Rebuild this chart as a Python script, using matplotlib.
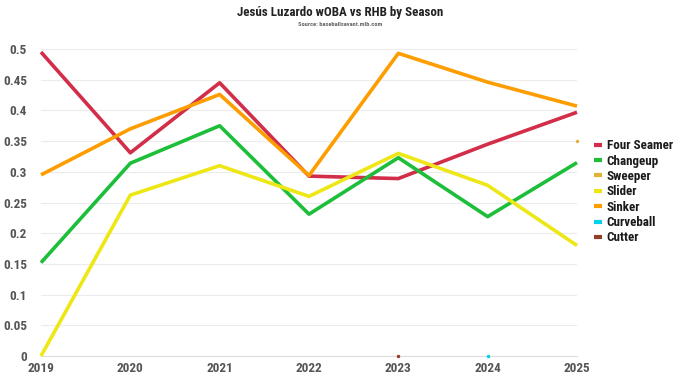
import numpy as np
import matplotlib.pyplot as plt
from matplotlib.lines import Line2D

seasons = [2019, 2020, 2021, 2022, 2023, 2024, 2025]
nan = np.nan
four_seamer = [0.495, 0.331, 0.445, 0.293, 0.289, 0.345, 0.397]
changeup = [0.152, 0.314, 0.375, 0.231, 0.323, 0.227, 0.315]
sweeper = [nan, nan, nan, nan, nan, nan, 0.350]
slider = [0.0, 0.262, 0.310, 0.260, 0.330, 0.278, 0.180]
sinker = [0.295, 0.370, 0.426, 0.294, 0.493, 0.446, 0.407]
curveball = [nan, nan, nan, nan, nan, 0.0, nan]
cutter = [nan, nan, nan, nan, 0.0, nan, nan]

pitches = ["Four Seamer", "Changeup", "Sweeper", "Slider", "Sinker", "Curveball", "Cutter"]
series = [four_seamer, changeup, sweeper, slider, sinker, curveball, cutter]
colors = ["#D22D49", "#1DBE3A", "#DDB33A", "#EEE716", "#FE9D00", "#00D1ED", "#933F2C"]

plt.rcParams['font.family'] = ['Roboto Condensed', 'Roboto', 'DejaVu Sans']

fig = plt.figure(figsize=(6.8, 3.83), dpi=100)
ax = fig.add_axes([0.0603, 0.0705, 0.7882, 0.8015])

for name, vals, c in zip(pitches, series, colors):
    ax.plot(seasons, vals, color=c, lw=2.6, solid_capstyle='butt', zorder=3,
            marker='o', markersize=1.5 if sum(~np.isnan(vals)) == 1 else 0)

ax.set_xlim(2019, 2025)
ax.set_ylim(0, 0.5)
ax.set_xticks(seasons)
ax.set_yticks(np.arange(0, 0.51, 0.05))
ax.set_yticklabels(["0", "0.05", "0.1", "0.15", "0.2", "0.25", "0.3", "0.35", "0.4", "0.45", "0.5"])
ax.grid(axis='y', color='#ececec', lw=0.8)
ax.set_axisbelow(True)
for s in ax.spines.values():
    s.set_visible(False)
ax.spines['bottom'].set_visible(True)
ax.spines['bottom'].set_color('#dddddd')
ax.tick_params(axis='both', length=0, labelsize=9.5, labelcolor='#555555')
for lab in ax.get_xticklabels() + ax.get_yticklabels():
    lab.set_fontweight('bold')
ax.tick_params(axis='x', pad=4)
ax.tick_params(axis='y', pad=10)
for ln in ax.lines:
    ln.set_clip_on(False)

handles = [Line2D([0], [0], color=c, lw=3, solid_capstyle='butt') for c in colors]
leg = fig.legend(handles, pitches, loc='center left', bbox_to_anchor=(0.873, 0.499),
                 frameon=False, handlelength=0.65, handletextpad=0.35, labelspacing=0.18,
                 borderaxespad=0, borderpad=0,
                 prop={'weight': 'bold', 'size': 9.4})
for t in leg.get_texts():
    t.set_color('#1a1a1a')

fig.text(0.5, 0.968, "Jesús Luzardo wOBA vs RHB by Season", ha='center', va='center',
         fontsize=9.4, fontweight='bold', color='#222222')
fig.text(0.5, 0.935, "Source: baseballsavant.mlb.com", ha='center', va='center',
         fontsize=4.6, fontweight='bold', color='#666666')

fig.savefig("out.png", dpi=100)
